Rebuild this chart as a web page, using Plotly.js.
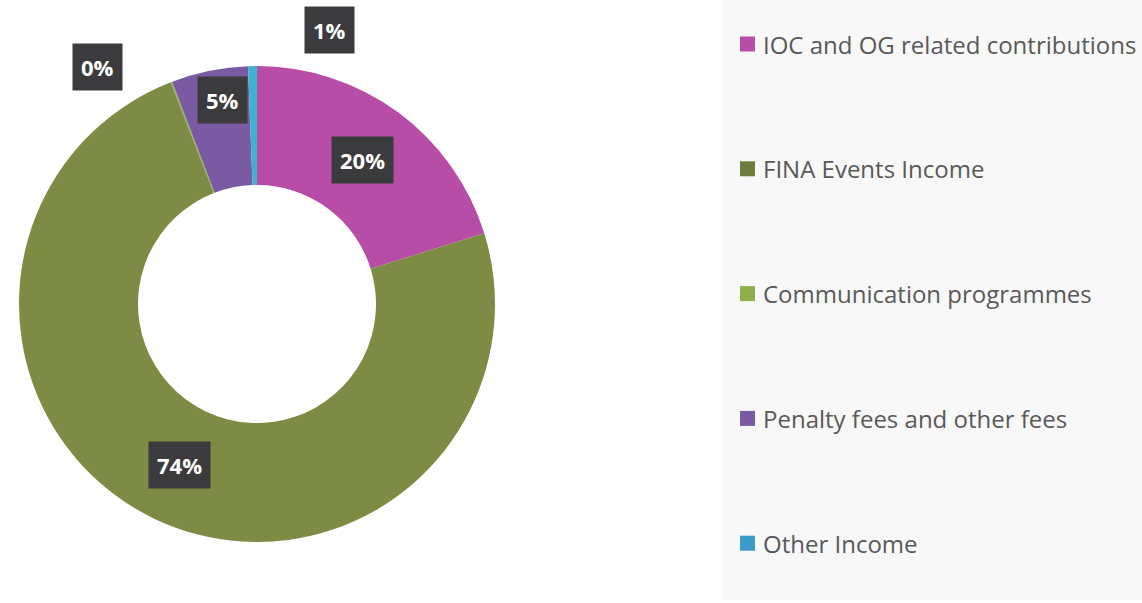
<!DOCTYPE html>
<html>
<head>
<meta charset="utf-8">
<script src="https://cdn.plot.ly/plotly-3.0.1.min.js"></script>
<style>html,body{margin:0;padding:0;background:#fff;}#chart{width:1142px;height:603px;}</style>
</head>
<body>
<div id="chart"></div>
<script>
// ---- data ----
const categories = ["IOC and OG related contributions", "FINA Events Income", "Communication programmes", "Penalty fees and other fees", "Other Income"];
const values = [20.2, 73.9, 0.1, 5.2, 0.6];
const colors = ["#B84DA8", "#7E8B45", "#8DB04C", "#7A5BA3", "#3EB2D2"];
const legendColors = ["#B84DA8", "#6F7D3C", "#8DB04C", "#7A5BA3", "#3D9ACB"];

// ---- styling / layout ----
const W = 1142, H = 603;
const cx = 257, cy = 304, R = 238;
const labelRadius = [0.75, 0.75, 1.20, 0.87, 1.19];
const labelAngleShift = [0, 0, -13, 1.8, 16];
const legendLeft = 722, legendTop = 44, legendStep = 124.8;

const total = values.reduce((a, b) => a + b, 0);
const annotations = [];
const shapes = [];
let cum = 0;
values.forEach((v, i) => {
  const mid = (cum + v / 2) / total * 360 + labelAngleShift[i];
  cum += v;
  const rad = mid * Math.PI / 180;
  const px = cx + Math.sin(rad) * R * labelRadius[i];
  const py = cy - Math.cos(rad) * R * labelRadius[i];
  annotations.push({
    x: px / W, y: 1 - py / H, xref: 'paper', yref: 'paper', xanchor: 'center', yanchor: 'middle',
    text: Math.round(v / total * 100) + '%', showarrow: false,
    bgcolor: '#3b3b3d', borderpad: 8,
    font: {family: 'Open Sans', size: 22, color: '#ffffff', weight: 'bold'}
  });
});

// legend background
shapes.push({type: 'rect', xref: 'paper', yref: 'paper', x0: legendLeft / W, x1: 1, y0: 0.005, y1: 1,
  fillcolor: '#f8f8f8', line: {width: 0}, layer: 'below'});
categories.forEach((c, i) => {
  const yc = legendTop + i * legendStep;
  shapes.push({type: 'rect', xref: 'paper', yref: 'paper',
    x0: 740 / W, x1: 755 / W, y0: 1 - (yc + 7.5) / H, y1: 1 - (yc - 7.5) / H,
    fillcolor: legendColors[i], line: {width: 0}});
  annotations.push({x: 761 / W, y: 1 - yc / H, xref: 'paper', yref: 'paper', xanchor: 'left', yanchor: 'middle',
    text: c, showarrow: false, font: {family: 'Open Sans', size: 24, color: '#595959'}});
});

const trace = {
  type: 'pie', labels: categories, values: values, hole: 0.5,
  sort: false, direction: 'clockwise', rotation: 0,
  marker: {colors: colors, line: {width: 0}},
  textinfo: 'none', hoverinfo: 'label+percent', showlegend: false,
  domain: {x: [(cx - R) / W, (cx + R) / W], y: [1 - (cy + R) / H, 1 - (cy - R) / H]}
};

Plotly.newPlot('chart', [trace], {
  width: W, height: H, margin: {l: 0, r: 0, t: 0, b: 0},
  paper_bgcolor: '#ffffff', showlegend: false,
  annotations: annotations, shapes: shapes
}, {displayModeBar: false, staticPlot: true});
</script>
</body>
</html>
